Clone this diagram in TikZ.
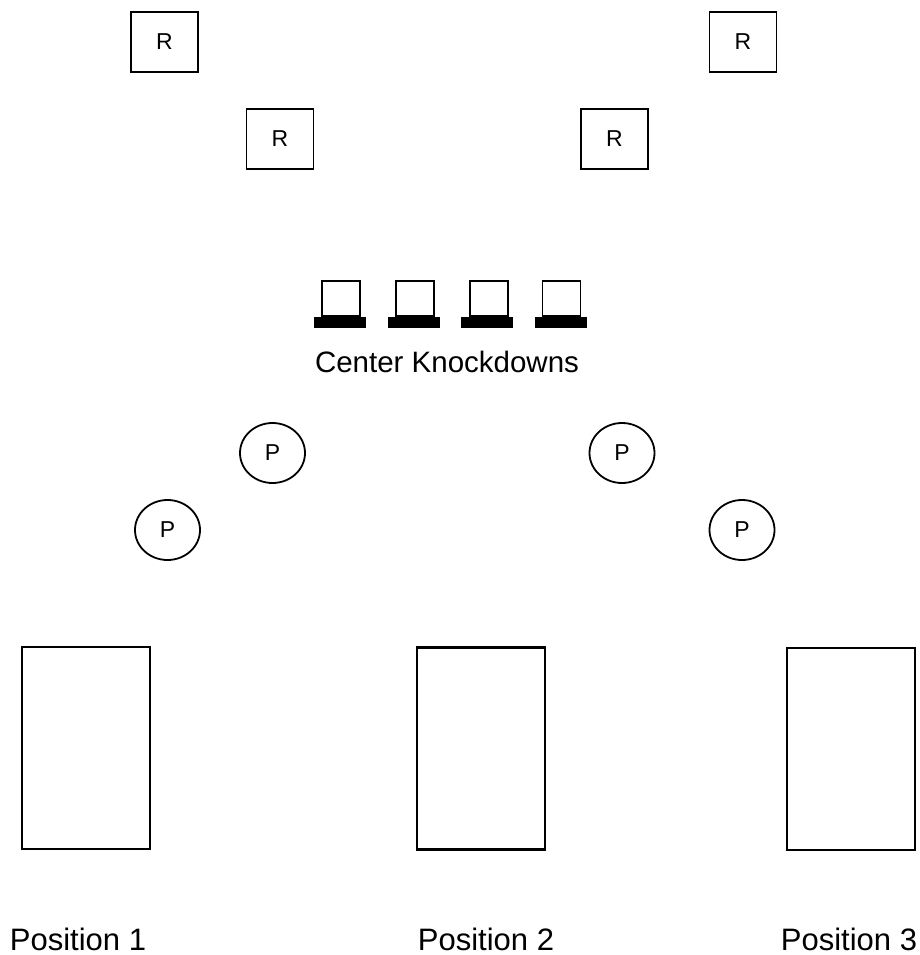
\documentclass[tikz,border=0pt]{standalone}
\usepackage{fontspec}
\setmainfont{Liberation Sans}
\usetikzlibrary{shapes.geometric}
\begin{document}
\begin{tikzpicture}[x=1pt,y=-1pt,
  rbox/.style={draw,line width=1.8pt,minimum width=67pt,minimum height=60pt,inner sep=0pt,font=\fontsize{23}{25}\selectfont},
  pcirc/.style={draw,ellipse,line width=1.8pt,minimum width=65pt,minimum height=60pt,inner sep=0pt,font=\fontsize{23}{25}\selectfont},
  kdsq/.style={draw,line width=1.8pt,minimum width=38pt,minimum height=35pt,inner sep=0pt,anchor=south},
  kdbar/.style={fill=black,minimum width=52pt,minimum height=10.5pt,inner sep=0pt,anchor=north},
  posbox/.style={draw,line width=2.2pt,minimum width=128pt,minimum height=202pt,inner sep=0pt},
  lbl/.style={anchor=base,inner sep=0pt,font=\fontsize{29.5}{32}\selectfont},
  poslbl/.style={anchor=base,inner sep=0pt,font=\fontsize{31}{34}\selectfont}]
\useasboundingbox (0,0) rectangle (920,955);
% R boxes
\node[rbox] (r1) at (164.5,42) {R};
\node[rbox] (r2) at (280,139) {R};
\node[rbox] (r3) at (743,42) {R};
\node[rbox] (r4) at (614.5,139) {R};
% knockdowns
\node[kdbar] (kb1) at (340,317) {};
\node[kdbar] (kb2) at (413.5,317) {};
\node[kdbar] (kb3) at (487.3,317) {};
\node[kdbar] (kb4) at (561,317) {};
\node[kdsq] (ks1) at (341,317) {};
\node[kdsq] (ks2) at (415,317) {};
\node[kdsq] (ks3) at (489,317) {};
\node[kdsq] (ks4) at (561.5,317) {};
\node[lbl] (ckd) at (447,372) {Center Knockdowns};
% P circles
\node[pcirc] (p1) at (272.5,453) {P};
\node[pcirc] (p2) at (167.5,530) {P};
\node[pcirc] (p3) at (622,453) {P};
\node[pcirc] (p4) at (742,530) {P};
% position boxes
\node[posbox] (b1) at (86,748) {};
\node[posbox] (b2) at (481,748.5) {};
\node[posbox] (b3) at (851,749) {};
\node[poslbl] (l1) at (78,950) {Position 1};
\node[poslbl] (l2) at (486,950) {Position 2};
\node[poslbl] (l3) at (849,950) {Position 3};
\end{tikzpicture}
\end{document}
